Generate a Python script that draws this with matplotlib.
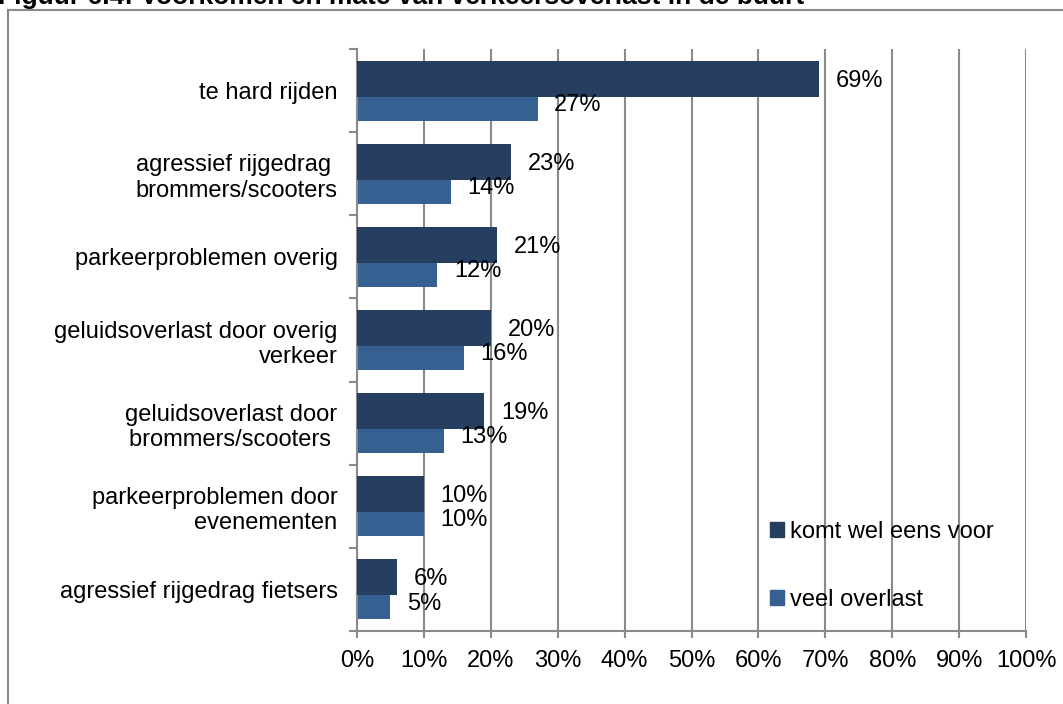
import matplotlib
matplotlib.use("Agg")
import matplotlib.pyplot as plt
import numpy as np
from matplotlib.lines import Line2D
from matplotlib.patches import Patch

plt.rcParams['font.family'] = ['Liberation Sans', 'DejaVu Sans']

categories = [
    "te hard rijden",
    "agressief rijgedrag \nbrommers/scooters",
    "parkeerproblemen overig",
    "geluidsoverlast door overig\nverkeer",
    "geluidsoverlast door\nbrommers/scooters ",
    "parkeerproblemen door\nevenementen",
    "agressief rijgedrag fietsers",
]
komt_wel_eens_voor = [69, 23, 21, 20, 19, 10, 6]
veel_overlast = [27, 14, 12, 16, 13, 10, 5]
series_names = ["komt wel eens voor", "veel overlast"]
xticks = list(range(0, 101, 10))

c_dark = "#263f61"
c_light = "#366092"
c_grid = "#8a8a8a"
fs = 17

W, H = 1063, 704
fig = plt.figure(figsize=(W / 100, H / 100), dpi=100)
ax = fig.add_axes([357 / W, 1 - 631 / H, (1026 - 357) / W, (631 - 49) / H])

y = np.arange(len(categories))
bh = 36 / 83
off = 12 / 83

# light bar first, dark bar drawn over it (overlap like excel)
ax.barh(y + off, veel_overlast, height=bh, color=c_light, zorder=2)
ax.barh(y - off, komt_wel_eens_voor, height=bh, color=c_dark, zorder=3)

for i in range(len(categories)):
    ax.annotate(f"{komt_wel_eens_voor[i]}%", (komt_wel_eens_voor[i], y[i] - off),
                xytext=(12, -1.5), textcoords="offset points", ha="left", va="center",
                fontsize=fs, zorder=5)
    ax.annotate(f"{veel_overlast[i]}%", (veel_overlast[i], y[i] + off),
                xytext=(12, -1.5), textcoords="offset points", ha="left", va="center",
                fontsize=fs, zorder=5)

ax.set_xlim(0, 100)
ax.set_ylim(len(categories) - 0.5, -0.5)
ax.set_xticks(xticks)
ax.set_xticklabels([f"{t}%" for t in xticks], fontsize=fs)
ax.set_yticks(y)
ax.set_yticklabels(categories, fontsize=fs)
ax.set_yticks(np.arange(len(categories) + 1) - 0.5, minor=True)
ax.tick_params(axis="y", which="major", length=0, pad=14)
ax.tick_params(axis="y", which="minor", length=6, width=1.5, color=c_grid, direction="out")
ax.tick_params(axis="x", length=5, width=1.5, color=c_grid, pad=9)

ax.grid(axis="x", color=c_grid, linewidth=1.5, zorder=0)
ax.set_axisbelow(True)
for s in ["top", "right"]:
    ax.spines[s].set_visible(False)
for s in ["left", "bottom"]:
    ax.spines[s].set_color(c_grid)
    ax.spines[s].set_linewidth(1.5)

handles = [Patch(color=c_dark), Patch(color=c_light)]
ax.legend(handles, series_names, loc="upper left", bbox_to_anchor=(770 / W, 1 - 521 / H),
          bbox_transform=fig.transFigure, frameon=False, fontsize=fs,
          handlelength=0.6, handleheight=0.6, handletextpad=0.25,
          labelspacing=1.95, borderpad=0, borderaxespad=0)

# outer frame (partly off the picture) and clipped title
fig.add_artist(Line2D([7.5 / W, 1], [1 - 10 / H, 1 - 10 / H], transform=fig.transFigure,
                      color=c_grid, linewidth=1.5))
fig.add_artist(Line2D([7.5 / W, 7.5 / W], [0, 1 - 10 / H], transform=fig.transFigure,
                      color=c_grid, linewidth=1.5))
fig.text(-2 / W, 1 - 4 / H, "Figuur 6.4: Voorkomen en mate van verkeersoverlast in de buurt",
         fontsize=19, fontweight="bold", va="baseline", ha="left")

fig.savefig("out.png", dpi=100, facecolor="white")
